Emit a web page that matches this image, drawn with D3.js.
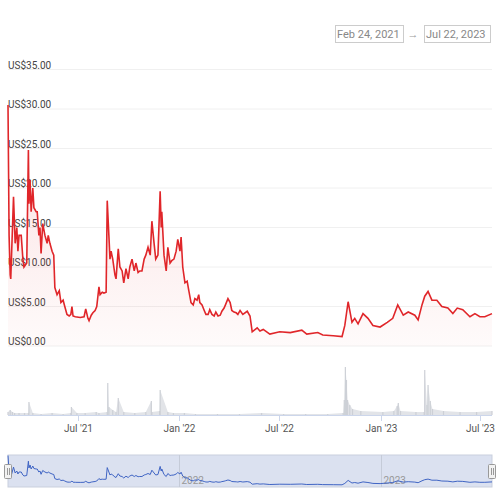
<!DOCTYPE html>
<html><head><meta charset="utf-8">
<script src="https://cdn.jsdelivr.net/npm/d3@7"></script>
<style>body{margin:0;background:#fff;font-family:Roboto,sans-serif}</style>
</head><body><div id="chart"></div>
<script>
// days since Feb 24, 2021
const priceDays = [0,2,4,5,10,13,16,18,20,24,27,29,34,37,38,40,42,45,47,51,53,56,58,60,63,67,71,73,76,80,83,85,89,93,96,100,103,107,111,114,116,118,122,131,138,141,145,147,151,154,158,161,165,167,171,174,178,180,183,185,187,190,194,196,200,203,207,210,214,218,221,225,229,232,236,239,243,247,250,254,258,261,265,268,272,276,278,279,283,287,290,294,297,301,305,308,312,314,317,321,325,328,332,336,339,343,346,348,352,356,359,363,366,370,374,377,381,385,388,392,395,399,403,406,410,414,417,421,426,434,439,443,452,457,463,475,493,512,533,542,562,571,590,606,611,617,624,629,635,644,653,662,675,688,698,707,717,726,738,744,751,756,762,769,778,787,798,807,815,825,838,847,856,865,878];
const prices = [30.5,14,9,8.5,18.9,13,15,12,14,14,11,10,10.5,24.8,18,21,17,20,17.5,17,17,14,15,11.7,15.5,14,13,14,13,12,11.5,7.4,6.5,7,5.5,5.8,5,4,3.8,4,5,3.8,3.7,3.6,3.7,4.7,3.5,3.2,3.9,4.2,4.5,5,7.5,6.5,6.8,6.7,6.8,18.4,14,11,12,11,9,8.5,12.3,10,9.5,8,9.8,8.5,10,11,9.5,10.5,9.3,9.5,9.5,11,11.5,12.5,11.5,15.8,13,11,11.5,19.6,15,17,11.5,9.5,12.5,10.5,10.8,11,12,13.5,12,13.8,10,8,8.2,7,5.5,5.2,6,5.8,6.5,5.5,5.2,4.5,4,4,4.6,4,3.8,4.3,3.8,3.9,4.4,4.8,5.3,6,5.5,4.5,4.3,4.2,4,4.5,4.0,4.4,3.8,1.8,2.3,1.9,2.1,1.5,1.8,1.7,2.0,1.5,1.7,1.4,1.3,1.2,2.6,5.6,3.0,3.5,2.8,4.1,3.5,2.6,2.4,3.0,3.5,5.2,3.9,4.3,3.9,3.3,5.2,6.3,6.9,5.8,5.8,5.0,4.8,4.1,4.8,4.6,3.7,4.1,3.7,3.7,4.1];
const volDays = [0,4,8,12,20,30,37,38,45,60,80,100,114,115,125,140,160,165,180,181,183,190,196,200,210,230,250,260,261,275,276,290,300,320,340,380,420,460,500,540,580,608,610,612,614,616,620,625,640,680,700,706,708,712,740,755,756,760,762,766,770,790,820,850,878];
const volumes = [3,5,3,2,2,2,2,13,2,1,2,1,2,8,2,2,3,2,3,32,8,5,3,17,3,2,3,14,3,4,25,3,2,2,1,1,1,2,1,1,1,2,15,48,35,15,10,6,4,3,4,9,12,4,3,3,45,10,30,14,6,4,3,3,4];
const yTicks = [0,5,10,15,20,25,30,35];
const xTicks = [["2021-07-01","Jul '21"],["2022-01-01","Jan '22"],["2022-07-01","Jul '22"],["2023-01-01","Jan '23"],["2023-07-01","Jul '23"]];
const navTicks = [["2022-01-01","2022"],["2023-01-01","2023"]];

const start = new Date(2021,1,24);
const toDate = d => new Date(start.getTime() + d*864e5);
const series = priceDays.map((d,i) => ({date: toDate(d), v: prices[i]}));
const vol = volDays.map((d,i) => ({date: toDate(d), v: volumes[i]}));

const svg = d3.select("#chart").append("svg").attr("width",500).attr("height",500);
const x = d3.scaleTime().domain([start, toDate(878)]).range([8,492]);
const y = d3.scaleLinear().domain([0,35]).range([346,69.5]);
const yv = d3.scaleLinear().domain([0,50]).range([415,365]);

// range inputs
const inp = svg.append("g").attr("font-size",11).attr("fill","#888");
[["Feb 24, 2021",335,403],["Jul 22, 2023",424,490]].forEach(([t,a,b]) => {
  inp.append("rect").attr("x",a+0.5).attr("y",25.5).attr("width",b-a).attr("height",17).attr("fill","none").attr("stroke","#ccc");
  inp.append("text").attr("x",a+2).attr("y",38).text(t);
});
inp.append("text").attr("x",413).attr("y",38).attr("fill","#999").attr("text-anchor","middle").text("→");

// grid + y labels
yTicks.forEach(t => {
  svg.append("line").attr("x1",8).attr("x2",492).attr("y1",y(t)).attr("y2",y(t)).attr("stroke","#f0f0f0");
  svg.append("text").attr("x",8).attr("y",y(t)-1).attr("font-size",10).attr("fill","#444").text(`US$${t.toFixed(2)}`);
});

const grad = svg.append("defs").append("linearGradient").attr("id","g").attr("x1",0).attr("x2",0).attr("y1",0).attr("y2",1);
grad.append("stop").attr("offset","0%").attr("stop-color","#e0262a").attr("stop-opacity",0.15);
grad.append("stop").attr("offset","100%").attr("stop-color","#e0262a").attr("stop-opacity",0.02);

svg.append("path").datum(series).attr("fill","url(#g)")
  .attr("d", d3.area().x(d=>x(d.date)).y0(y(0)).y1(d=>y(d.v)));
svg.append("path").datum(series).attr("fill","none").attr("stroke","#e0262a").attr("stroke-width",1.6)
  .attr("d", d3.line().x(d=>x(d.date)).y(d=>y(d.v)));

// volume
svg.append("path").datum(vol).attr("fill","#e2e4e8")
  .attr("d", d3.area().x(d=>x(d.date)).y0(yv(0)).y1(d=>yv(d.v)));
svg.selectAll(".vb").data(vol).join("rect").attr("fill","#cdd0d6")
  .attr("x",d=>x(d.date)-0.6).attr("width",1.2).attr("y",d=>yv(d.v)).attr("height",d=>yv(0)-yv(d.v));
svg.append("line").attr("x1",8).attr("x2",492).attr("y1",415.5).attr("y2",415.5).attr("stroke","#ccd6eb");
xTicks.forEach(([d,l]) => {
  const px = Math.round(x(new Date(d)))+0.5;
  svg.append("line").attr("x1",px).attr("x2",px).attr("y1",415).attr("y2",421).attr("stroke","#ccd6eb");
  svg.append("text").attr("x",px).attr("y",432).attr("text-anchor","middle").attr("font-size",10).attr("fill","#555").text(l);
});

// navigator
const yn = d3.scaleLinear().domain([0,31]).range([486,455]);
svg.append("rect").attr("x",8).attr("y",455).attr("width",484).attr("height",32).attr("fill","#dbe1f0").attr("stroke","#c9cfdd");
navTicks.forEach(([d,l]) => {
  const px = Math.round(x(new Date(d)))+0.5;
  svg.append("line").attr("x1",px).attr("x2",px).attr("y1",455).attr("y2",487).attr("stroke","#c5cbd8");
  svg.append("text").attr("x",px+2).attr("y",484).attr("font-size",10).attr("fill","#999").text(l);
});
svg.append("path").datum(series).attr("fill","none").attr("stroke","#3f64c4").attr("stroke-width",1)
  .attr("d", d3.line().x(d=>x(d.date)).y(d=>yn(d.v)));
[8,492].forEach(px => {
  svg.append("rect").attr("x",px-3.5).attr("y",464.5).attr("width",7).attr("height",14).attr("rx",1).attr("fill","#f2f2f2").attr("stroke","#999");
  svg.append("line").attr("x1",px-0.5).attr("x2",px-0.5).attr("y1",468).attr("y2",475).attr("stroke","#999");
  svg.append("line").attr("x1",px+1.5).attr("x2",px+1.5).attr("y1",468).attr("y2",475).attr("stroke","#999");
});
</script></body></html>
